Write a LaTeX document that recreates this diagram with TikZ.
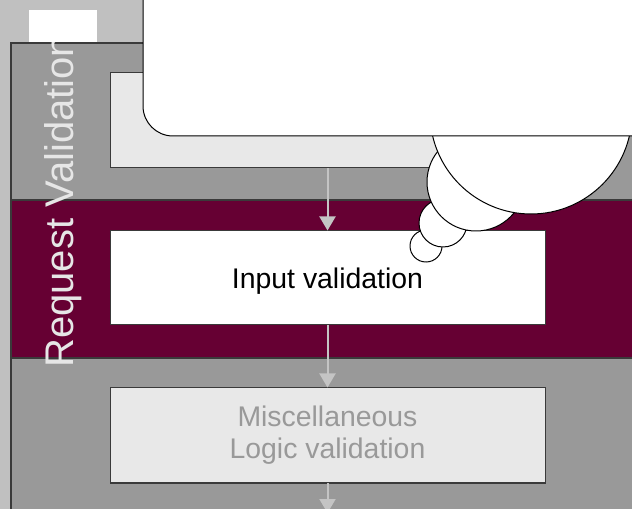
\documentclass[tikz,border=0pt]{standalone}
\usepackage{fontspec}
\setmainfont{Liberation Sans}
\usetikzlibrary{arrows.meta}
\definecolor{bg}{HTML}{C0C0C0}
\definecolor{lanegray}{HTML}{999999}
\definecolor{lanemaroon}{HTML}{660033}
\definecolor{boxlight}{HTML}{E8E8E8}
\definecolor{edgec}{HTML}{3A3A3A}
\definecolor{flowc}{HTML}{C4C4C4}
\definecolor{labelc}{HTML}{E6E6E6}
\definecolor{dimtext}{HTML}{999999}
\tikzset{
  lanebox/.style={draw=edgec, line width=1.2pt, inner sep=0, anchor=north west, minimum width=480pt},
  taskbox/.style={draw=edgec, line width=0.75pt, inner sep=0, minimum width=326.25pt, align=center,
                  font=\fontsize{21.3}{24}\selectfont},
  flow/.style={draw=flowc, line width=1.5pt, -{Triangle[length=10.5pt,width=12pt]}},
  bubble/.style={circle, draw=black, line width=0.75pt, fill=white, inner sep=0},
}
\begin{document}
\begin{tikzpicture}[x=0.75pt,y=-0.75pt]
\clip (0,0) rectangle (632,509);
\fill[bg] (0,0) rectangle (632,509);
\node[fill=white, inner sep=0, anchor=north west, minimum width=51pt, minimum height=24pt] (tab) at (29,10) {};
% lanes
\node[lanebox, fill=lanegray, minimum height=117.75pt] (lane1) at (10,42) {};
\node[lanebox, fill=lanemaroon, minimum height=118.5pt] (lane2) at (10,199) {};
\node[lanebox, fill=lanegray, minimum height=137.25pt] (lane3) at (10,357) {};
% pool label
\begin{scope}
\clip (10.5,42.5) rectangle (650,560);
\node[rotate=90, anchor=base west, inner sep=0, text=labelc, font=\fontsize{30}{36}\selectfont] (title) at (73,368) {Request Validation};
\end{scope}
% tasks
\node[taskbox, fill=boxlight, minimum height=71.25pt] (b1) at (327.5,120.5) {};
\node[taskbox, fill=white, minimum height=70.5pt, text depth=0pt] (b2) at (327.5,278) {Input validation};
\node[taskbox, fill=boxlight, minimum height=71.25pt, text=dimtext] (b3) at (327.5,435.5) {Miscellaneous\\Logic validation};
\coordinate (out) at (327.5,513);
% flows
\draw[flow] (b1.south) -- (b2.north);
\draw[flow] (b2.south) -- (b3.north);
\draw[flow] (b3.south) -- (out);
% callout
\node[bubble, minimum size=24pt] (c4) at (426,246) {};
\node[bubble, minimum size=36pt] (c3) at (443,223) {};
\node[bubble, minimum size=73.5pt] (c2) at (476,182) {};
\node[bubble, minimum size=151.5pt] (c1) at (531,113) {};
\node[draw=black, line width=0.75pt, fill=white, rounded corners=22.5pt, inner sep=0,
      minimum width=420pt, minimum height=147pt] (callout) at (423,38) {};
\end{tikzpicture}
\end{document}
